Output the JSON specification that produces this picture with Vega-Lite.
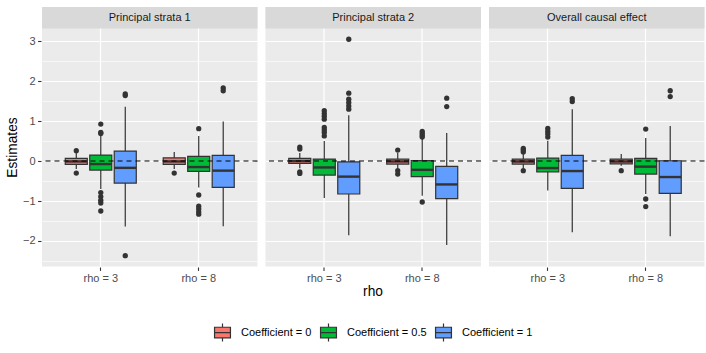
{
  "$schema": "https://vega.github.io/schema/vega-lite/v6.json",
  "background": "white",
  "autosize": {"type": "pad"},
  "padding": {"left": 5, "top": 7, "right": 6, "bottom": 5},
  "data": {
    "values": [
      {"panel": "Principal strata 1", "rho": "rho = 3", "coef": "Coefficient = 0", "lo": -0.2, "q1": -0.085, "med": -0.01, "q3": 0.065, "hi": 0.2},
      {"panel": "Principal strata 1", "rho": "rho = 3", "coef": "Coefficient = 0.5", "lo": -0.7, "q1": -0.225, "med": -0.075, "q3": 0.15, "hi": 0.65},
      {"panel": "Principal strata 1", "rho": "rho = 3", "coef": "Coefficient = 1", "lo": -1.64, "q1": -0.55, "med": -0.17, "q3": 0.25, "hi": 1.36},
      {"panel": "Principal strata 1", "rho": "rho = 8", "coef": "Coefficient = 0", "lo": -0.2, "q1": -0.085, "med": -0.01, "q3": 0.08, "hi": 0.23},
      {"panel": "Principal strata 1", "rho": "rho = 8", "coef": "Coefficient = 0.5", "lo": -0.66, "q1": -0.26, "med": -0.15, "q3": 0.115, "hi": 0.63},
      {"panel": "Principal strata 1", "rho": "rho = 8", "coef": "Coefficient = 1", "lo": -1.63, "q1": -0.66, "med": -0.24, "q3": 0.14, "hi": 0.99},
      {"panel": "Principal strata 2", "rho": "rho = 3", "coef": "Coefficient = 0", "lo": -0.18, "q1": -0.06, "med": 0.0, "q3": 0.065, "hi": 0.2},
      {"panel": "Principal strata 2", "rho": "rho = 3", "coef": "Coefficient = 0.5", "lo": -0.925, "q1": -0.35, "med": -0.16, "q3": 0.05, "hi": 0.5},
      {"panel": "Principal strata 2", "rho": "rho = 3", "coef": "Coefficient = 1", "lo": -1.86, "q1": -0.825, "med": -0.39, "q3": -0.02, "hi": 1.15},
      {"panel": "Principal strata 2", "rho": "rho = 8", "coef": "Coefficient = 0", "lo": -0.18, "q1": -0.075, "med": -0.01, "q3": 0.05, "hi": 0.2},
      {"panel": "Principal strata 2", "rho": "rho = 8", "coef": "Coefficient = 0.5", "lo": -0.87, "q1": -0.39, "med": -0.22, "q3": 0.01, "hi": 0.55},
      {"panel": "Principal strata 2", "rho": "rho = 8", "coef": "Coefficient = 1", "lo": -2.1, "q1": -0.94, "med": -0.585, "q3": -0.135, "hi": 0.7},
      {"panel": "Overall causal effect", "rho": "rho = 3", "coef": "Coefficient = 0", "lo": -0.18, "q1": -0.075, "med": -0.01, "q3": 0.05, "hi": 0.18},
      {"panel": "Overall causal effect", "rho": "rho = 3", "coef": "Coefficient = 0.5", "lo": -0.74, "q1": -0.27, "med": -0.175, "q3": 0.075, "hi": 0.51},
      {"panel": "Overall causal effect", "rho": "rho = 3", "coef": "Coefficient = 1", "lo": -1.785, "q1": -0.685, "med": -0.25, "q3": 0.14, "hi": 1.3},
      {"panel": "Overall causal effect", "rho": "rho = 8", "coef": "Coefficient = 0", "lo": -0.12, "q1": -0.07, "med": -0.01, "q3": 0.05, "hi": 0.175},
      {"panel": "Overall causal effect", "rho": "rho = 8", "coef": "Coefficient = 0.5", "lo": -0.825, "q1": -0.325, "med": -0.14, "q3": 0.065, "hi": 0.575},
      {"panel": "Overall causal effect", "rho": "rho = 8", "coef": "Coefficient = 1", "lo": -1.885, "q1": -0.81, "med": -0.4, "q3": 0.0075, "hi": 0.88},

      {"panel": "Principal strata 1", "rho": "rho = 3", "coef": "Coefficient = 0", "out": 0.26},
      {"panel": "Principal strata 1", "rho": "rho = 3", "coef": "Coefficient = 0", "out": -0.3},
      {"panel": "Principal strata 1", "rho": "rho = 3", "coef": "Coefficient = 0.5", "out": 0.925},
      {"panel": "Principal strata 1", "rho": "rho = 3", "coef": "Coefficient = 0.5", "out": 0.715},
      {"panel": "Principal strata 1", "rho": "rho = 3", "coef": "Coefficient = 0.5", "out": 0.69},
      {"panel": "Principal strata 1", "rho": "rho = 3", "coef": "Coefficient = 0.5", "out": -0.79},
      {"panel": "Principal strata 1", "rho": "rho = 3", "coef": "Coefficient = 0.5", "out": -0.89},
      {"panel": "Principal strata 1", "rho": "rho = 3", "coef": "Coefficient = 0.5", "out": -0.98},
      {"panel": "Principal strata 1", "rho": "rho = 3", "coef": "Coefficient = 0.5", "out": -1.05},
      {"panel": "Principal strata 1", "rho": "rho = 3", "coef": "Coefficient = 0.5", "out": -1.25},
      {"panel": "Principal strata 1", "rho": "rho = 3", "coef": "Coefficient = 1", "out": 1.68},
      {"panel": "Principal strata 1", "rho": "rho = 3", "coef": "Coefficient = 1", "out": 1.64},
      {"panel": "Principal strata 1", "rho": "rho = 3", "coef": "Coefficient = 1", "out": -2.37},
      {"panel": "Principal strata 1", "rho": "rho = 8", "coef": "Coefficient = 0", "out": -0.3},
      {"panel": "Principal strata 1", "rho": "rho = 8", "coef": "Coefficient = 0.5", "out": 0.81},
      {"panel": "Principal strata 1", "rho": "rho = 8", "coef": "Coefficient = 0.5", "out": -0.85},
      {"panel": "Principal strata 1", "rho": "rho = 8", "coef": "Coefficient = 0.5", "out": -1.13},
      {"panel": "Principal strata 1", "rho": "rho = 8", "coef": "Coefficient = 0.5", "out": -1.2},
      {"panel": "Principal strata 1", "rho": "rho = 8", "coef": "Coefficient = 0.5", "out": -1.27},
      {"panel": "Principal strata 1", "rho": "rho = 8", "coef": "Coefficient = 0.5", "out": -1.33},
      {"panel": "Principal strata 1", "rho": "rho = 8", "coef": "Coefficient = 1", "out": 1.83},
      {"panel": "Principal strata 1", "rho": "rho = 8", "coef": "Coefficient = 1", "out": 1.76},
      {"panel": "Principal strata 2", "rho": "rho = 3", "coef": "Coefficient = 0", "out": 0.35},
      {"panel": "Principal strata 2", "rho": "rho = 3", "coef": "Coefficient = 0", "out": 0.3},
      {"panel": "Principal strata 2", "rho": "rho = 3", "coef": "Coefficient = 0", "out": -0.27},
      {"panel": "Principal strata 2", "rho": "rho = 3", "coef": "Coefficient = 0", "out": -0.31},
      {"panel": "Principal strata 2", "rho": "rho = 3", "coef": "Coefficient = 0.5", "out": 1.26},
      {"panel": "Principal strata 2", "rho": "rho = 3", "coef": "Coefficient = 0.5", "out": 1.19},
      {"panel": "Principal strata 2", "rho": "rho = 3", "coef": "Coefficient = 0.5", "out": 1.125},
      {"panel": "Principal strata 2", "rho": "rho = 3", "coef": "Coefficient = 0.5", "out": 1.05},
      {"panel": "Principal strata 2", "rho": "rho = 3", "coef": "Coefficient = 0.5", "out": 0.84},
      {"panel": "Principal strata 2", "rho": "rho = 3", "coef": "Coefficient = 0.5", "out": 0.78},
      {"panel": "Principal strata 2", "rho": "rho = 3", "coef": "Coefficient = 0.5", "out": 0.715},
      {"panel": "Principal strata 2", "rho": "rho = 3", "coef": "Coefficient = 0.5", "out": 0.63},
      {"panel": "Principal strata 2", "rho": "rho = 3", "coef": "Coefficient = 1", "out": 3.05},
      {"panel": "Principal strata 2", "rho": "rho = 3", "coef": "Coefficient = 1", "out": 1.7},
      {"panel": "Principal strata 2", "rho": "rho = 3", "coef": "Coefficient = 1", "out": 1.55},
      {"panel": "Principal strata 2", "rho": "rho = 3", "coef": "Coefficient = 1", "out": 1.465},
      {"panel": "Principal strata 2", "rho": "rho = 3", "coef": "Coefficient = 1", "out": 1.38},
      {"panel": "Principal strata 2", "rho": "rho = 3", "coef": "Coefficient = 1", "out": 1.3},
      {"panel": "Principal strata 2", "rho": "rho = 8", "coef": "Coefficient = 0", "out": 0.275},
      {"panel": "Principal strata 2", "rho": "rho = 8", "coef": "Coefficient = 0", "out": -0.24},
      {"panel": "Principal strata 2", "rho": "rho = 8", "coef": "Coefficient = 0", "out": -0.325},
      {"panel": "Principal strata 2", "rho": "rho = 8", "coef": "Coefficient = 0.5", "out": 0.74},
      {"panel": "Principal strata 2", "rho": "rho = 8", "coef": "Coefficient = 0.5", "out": 0.69},
      {"panel": "Principal strata 2", "rho": "rho = 8", "coef": "Coefficient = 0.5", "out": 0.64},
      {"panel": "Principal strata 2", "rho": "rho = 8", "coef": "Coefficient = 0.5", "out": 0.6},
      {"panel": "Principal strata 2", "rho": "rho = 8", "coef": "Coefficient = 0.5", "out": -1.025},
      {"panel": "Principal strata 2", "rho": "rho = 8", "coef": "Coefficient = 1", "out": 1.575},
      {"panel": "Principal strata 2", "rho": "rho = 8", "coef": "Coefficient = 1", "out": 1.365},
      {"panel": "Overall causal effect", "rho": "rho = 3", "coef": "Coefficient = 0", "out": 0.315},
      {"panel": "Overall causal effect", "rho": "rho = 3", "coef": "Coefficient = 0", "out": 0.275},
      {"panel": "Overall causal effect", "rho": "rho = 3", "coef": "Coefficient = 0", "out": 0.23},
      {"panel": "Overall causal effect", "rho": "rho = 3", "coef": "Coefficient = 0", "out": -0.24},
      {"panel": "Overall causal effect", "rho": "rho = 3", "coef": "Coefficient = 0.5", "out": 0.815},
      {"panel": "Overall causal effect", "rho": "rho = 3", "coef": "Coefficient = 0.5", "out": 0.74},
      {"panel": "Overall causal effect", "rho": "rho = 3", "coef": "Coefficient = 0.5", "out": 0.675},
      {"panel": "Overall causal effect", "rho": "rho = 3", "coef": "Coefficient = 0.5", "out": 0.6},
      {"panel": "Overall causal effect", "rho": "rho = 3", "coef": "Coefficient = 1", "out": 1.56},
      {"panel": "Overall causal effect", "rho": "rho = 3", "coef": "Coefficient = 1", "out": 1.49},
      {"panel": "Overall causal effect", "rho": "rho = 8", "coef": "Coefficient = 0", "out": -0.24},
      {"panel": "Overall causal effect", "rho": "rho = 8", "coef": "Coefficient = 0.5", "out": 0.8},
      {"panel": "Overall causal effect", "rho": "rho = 8", "coef": "Coefficient = 0.5", "out": -0.95},
      {"panel": "Overall causal effect", "rho": "rho = 8", "coef": "Coefficient = 0.5", "out": -1.14},
      {"panel": "Overall causal effect", "rho": "rho = 8", "coef": "Coefficient = 1", "out": 1.76},
      {"panel": "Overall causal effect", "rho": "rho = 8", "coef": "Coefficient = 1", "out": 1.615}
    ]
  },
  "facet": {
    "column": {
      "field": "panel",
      "type": "nominal",
      "sort": ["Principal strata 1", "Principal strata 2", "Overall causal effect"],
      "header": {"labels": false, "title": "rho", "titleOrient": "bottom", "titleFontSize": 13.75, "titleFontWeight": "normal", "titleColor": "black", "titleFont": "Liberation Sans", "titlePadding": -9}
    }
  },
  "spacing": 5.5,
  "spec": {
    "width": 215.5,
    "height": 259.5,
    "layer": [
      {
        "transform": [{"filter": "isValid(datum.med)"}, {"aggregate": [{"op": "count", "as": "n"}], "groupby": ["panel"]}],
        "mark": {"type": "rect", "fill": "#D9D9D9"},
        "encoding": {
          "y": {"datum": 3.32, "type": "quantitative"},
          "y2": {"datum": 3.8575}
        }
      },
      {
        "transform": [{"filter": "isValid(datum.med)"}],
        "mark": {"type": "rule", "color": "#333333", "strokeWidth": 1.2},
        "encoding": {
          "x": {"field": "rho", "type": "nominal"},
          "xOffset": {"field": "coef", "type": "nominal"},
          "y": {"field": "lo", "type": "quantitative"},
          "y2": {"field": "hi"}
        }
      },
      {
        "transform": [{"filter": "isValid(datum.med)"}],
        "mark": {"type": "bar", "stroke": "#333333", "strokeWidth": 1.2},
        "encoding": {
          "x": {
            "field": "rho", "type": "nominal",
            "scale": {"paddingInner": 0.25, "paddingOuter": 0.225},
            "axis": {
              "title": null, "labelAngle": 0, "labelAlign": "center", "labelFlush": false, "labelBaseline": "top",
              "domain": false, "grid": true, "gridColor": "white", "gridWidth": 1.2,
              "bandPosition": 0.5, "tickColor": "#333333", "tickSize": 3.4, "tickWidth": 1.1,
              "labelFontSize": 11, "labelColor": "#4D4D4D", "labelPadding": 2,
              "labelFont": "Liberation Sans"
            }
          },
          "xOffset": {"field": "coef", "type": "nominal", "scale": {"paddingInner": 0.1, "paddingOuter": 0.05}},
          "y": {
            "field": "q1", "type": "quantitative",
            "scale": {"domain": [-2.64, 3.8575], "nice": false, "zero": false},
            "axis": {
              "title": "Estimates",
              "values": [-2.5, -2, -1.5, -1, -0.5, 0, 0.5, 1, 1.5, 2, 2.5, 3],
              "tickCount": 100,
              "labelExpr": "datum.value % 1 === 0 ? format(datum.value, 'd') : ''",
              "domain": false, "grid": true, "gridColor": "white",
              "gridWidth": {"condition": {"test": "datum.value % 1 !== 0", "value": 0.6}, "value": 1.2},
              "tickOpacity": {"condition": {"test": "datum.value % 1 !== 0", "value": 0}, "value": 1},
              "tickColor": "#333333", "tickSize": 3.4, "tickWidth": 1.1,
              "labelFontSize": 11, "labelColor": "#4D4D4D", "labelPadding": 2.5,
              "titleFontSize": 13.75, "titleFontWeight": "normal", "titleColor": "black", "titlePadding": 3.4,
              "titleY": 140,
              "labelFont": "Liberation Sans", "titleFont": "Liberation Sans"
            }
          },
          "y2": {"field": "q3"},
          "fill": {
            "field": "coef", "type": "nominal",
            "scale": {"domain": ["Coefficient = 0", "Coefficient = 0.5", "Coefficient = 1"], "range": ["#F8766D", "#00BA38", "#619CFF"]},
            "legend": {"title": null, "orient": "none", "legendX": 169, "legendY": 314}
          }
        }
      },
      {
        "transform": [{"filter": "isValid(datum.med)"}],
        "mark": {"type": "tick", "orient": "horizontal", "color": "#333333", "size": 22, "thickness": 2.4, "opacity": 1},
        "encoding": {
          "x": {"field": "rho", "type": "nominal"},
          "xOffset": {"field": "coef", "type": "nominal"},
          "y": {"field": "med", "type": "quantitative"}
        }
      },
      {
        "transform": [{"filter": "isValid(datum.out)"}],
        "mark": {"type": "point", "filled": true, "color": "#333333", "opacity": 1, "size": 28},
        "encoding": {
          "x": {"field": "rho", "type": "nominal"},
          "xOffset": {"field": "coef", "type": "nominal"},
          "y": {"field": "out", "type": "quantitative"}
        }
      },
      {
        "transform": [{"filter": "isValid(datum.med)"}, {"aggregate": [{"op": "count", "as": "n"}], "groupby": ["panel"]}],
        "mark": {"type": "rule", "color": "black", "strokeWidth": 1.1, "strokeDash": [5, 4]},
        "encoding": {
          "y": {"datum": 0, "type": "quantitative"}
        }
      },
      {
        "transform": [{"filter": "isValid(datum.med)"}, {"aggregate": [{"op": "count", "as": "n"}], "groupby": ["panel"]}],
        "mark": {"type": "text", "font": "Liberation Sans", "fontSize": 11, "color": "#1A1A1A", "baseline": "middle", "align": "center"},
        "encoding": {
          "y": {"datum": 3.5888, "type": "quantitative"},
          "text": {"field": "panel", "type": "nominal"}
        }
      }
    ]
  },
  "config": {
    "view": {"fill": "#EBEBEB", "stroke": null},
    "font": "Liberation Sans",
    "legend": {
      "direction": "horizontal",
      "labelFontSize": 11,
      "labelColor": "black",
      "labelFont": "Liberation Sans",
      "symbolType": "M-0.75,-0.5H0.75V0.5H-0.75Z M-0.75,0H0.75 M0,-0.5V-0.85 M0,0.5V0.85",
      "symbolSize": 450,
      "symbolStrokeColor": "#333333",
      "symbolStrokeWidth": 1.2,
      "symbolOpacity": 1,
      "labelOffset": 7,
      "columnPadding": 5
    }
  }
}
